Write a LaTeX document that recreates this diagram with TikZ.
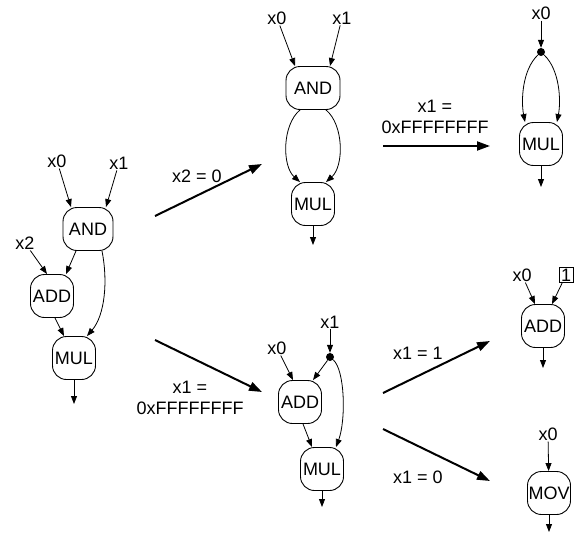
\documentclass[tikz,border=0pt]{standalone}
\usepackage{fontspec}
\setmainfont{Liberation Sans}
\usetikzlibrary{arrows.meta}
\newcommand\dfont{\fontsize{18}{21}\selectfont}
\begin{document}
\begin{tikzpicture}[x=1pt,y=-1pt,
  op/.style={draw, line width=0.9pt, rounded corners=14pt, minimum width=43pt, minimum height=43pt, inner sep=0.5pt, font=\dfont},
  lbl/.style={inner sep=1pt, font=\dfont},
  e/.style={-{Triangle[length=8pt,width=6pt]}, line width=0.8pt},
  big/.style={-{Triangle[length=13pt,width=9pt]}, line width=2pt},
  jdot/.style={circle, fill, inner sep=0pt, minimum size=8pt},
  cbox/.style={draw, line width=0.8pt, inner sep=1pt, minimum width=14pt, minimum height=15pt, font=\dfont}]
\useasboundingbox (0,0) rectangle (578,541);

% ---------- left graph ----------
\node[lbl] (Lx0) at (57,161) {x0};
\node[lbl] (Lx1) at (119,163) {x1};
\node[op, minimum width=50pt] (Land) at (88,229) {AND};
\node[lbl] (Lx2) at (25,243) {x2};
\node[op] (Ladd) at (52,296) {ADD};
\node[op] (Lmul) at (74,358) {MUL};
\coordinate (Lout) at (74,404);
\draw[e] (Lx0) -- ([xshift=-17pt]Land.north);
\draw[e] (Lx1) -- ([xshift=18pt]Land.north);
\draw[e] ([xshift=-12pt]Land.south) -- ([xshift=14pt]Ladd.north);
\draw[e] (Lx2) -- ([xshift=-5pt]Ladd.north);
\draw[e] ([xshift=3pt]Ladd.south) -- ([xshift=-10pt]Lmul.north);
\draw[e] ([xshift=14pt]Land.south) .. controls +(6,30) and +(18,-21) .. ([xshift=13pt]Lmul.north);
\draw[e] (Lmul) -- (Lout);

% ---------- transitions from left ----------
\coordinate (T1s) at (155,216);
\coordinate (T1e) at (262,164);
\draw[big] (T1s) -- (T1e);
\node[lbl] (T1l) at (197,176) {x2 = 0};
\coordinate (T2s) at (155,340);
\coordinate (T2e) at (262,392);
\draw[big] (T2s) -- (T2e);
\node[lbl, align=center] (T2l) at (190,398) {x1 =\\0xFFFFFFFF};

% ---------- middle top graph ----------
\node[lbl] (Mx0) at (277,18) {x0};
\node[lbl] (Mx1) at (342,18) {x1};
\node[op, minimum width=54pt] (Mand) at (313,88) {AND};
\node[op] (Mmul) at (313,204) {MUL};
\coordinate (Mout) at (313,245);
\draw[e] (Mx0) -- ([xshift=-18pt]Mand.north);
\draw[e] (Mx1) -- ([xshift=17pt]Mand.north);
\draw[e] ([xshift=-13pt]Mand.south) .. controls +(-18,15) and +(-18,-16) .. ([xshift=-13pt]Mmul.north);
\draw[e] ([xshift=13pt]Mand.south) .. controls +(18,15) and +(18,-16) .. ([xshift=13pt]Mmul.north);
\draw[e] (Mmul) -- (Mout);

% ---------- transition top ----------
\coordinate (T3s) at (383,146);
\coordinate (T3e) at (490,146);
\draw[big] (T3s) -- (T3e);
\node[lbl, align=center] (T3l) at (435,117) {x1 =\\0xFFFFFFFF};

% ---------- top right graph ----------
\node[lbl] (Rx0) at (541,13) {x0};
\node[jdot] (Rdot) at (541,52) {};
\node[op] (Rmul) at (541,144) {MUL};
\coordinate (Rout) at (541,187);
\draw[e] (Rx0) -- (Rdot);
\draw[e] (Rdot) .. controls +(-19,18) and +(-4,-21) .. ([xshift=-16pt]Rmul.north);
\draw[e] (Rdot) .. controls +(19,18) and +(4,-21) .. ([xshift=16pt]Rmul.north);
\draw[e] (Rmul) -- (Rout);

% ---------- middle bottom graph ----------
\node[lbl] (Bx1) at (330,322) {x1};
\node[jdot] (Bdot) at (330,357) {};
\node[lbl] (Bx0) at (277,348) {x0};
\node[op] (Badd) at (300,402) {ADD};
\node[op] (Bmul) at (322,469) {MUL};
\coordinate (Bout) at (322,507);
\draw[e] (Bx1) -- (Bdot);
\draw[e] (Bx0) -- ([xshift=-7pt]Badd.north);
\draw[e] (Bdot) -- ([xshift=13pt]Badd.north);
\draw[e] ([xshift=3pt]Badd.south) -- ([xshift=-10pt]Bmul.north);
\draw[e] (Bdot) .. controls +(15,13) and +(10,-27) .. ([xshift=14pt]Bmul.north);
\draw[e] (Bmul) -- (Bout);

% ---------- transitions right ----------
\coordinate (T4s) at (383,393);
\coordinate (T4e) at (490,341);
\draw[big] (T4s) -- (T4e);
\node[lbl] (T4l) at (418,353) {x1 = 1};
\coordinate (T5s) at (383,429);
\coordinate (T5e) at (490,481);
\draw[big] (T5s) -- (T5e);
\node[lbl] (T5l) at (418,477) {x1 = 0};

% ---------- right ADD ----------
\node[lbl] (Ax0) at (522,275) {x0};
\node[cbox] (Aone) at (566,275) {1};
\node[op] (Aadd) at (543,326) {ADD};
\coordinate (Aout) at (543,368);
\draw[e] (Ax0) -- ([xshift=-8pt]Aadd.north);
\draw[e] (Aone) -- ([xshift=9pt]Aadd.north);
\draw[e] (Aadd) -- (Aout);

% ---------- right MOV ----------
\node[lbl] (Vx0) at (548,434) {x0};
\node[op] (Vmov) at (549,493) {MOV};
\coordinate (Vout) at (549,532);
\draw[e] (Vx0) -- (Vmov);
\draw[e] (Vmov) -- (Vout);
\end{tikzpicture}
\end{document}
